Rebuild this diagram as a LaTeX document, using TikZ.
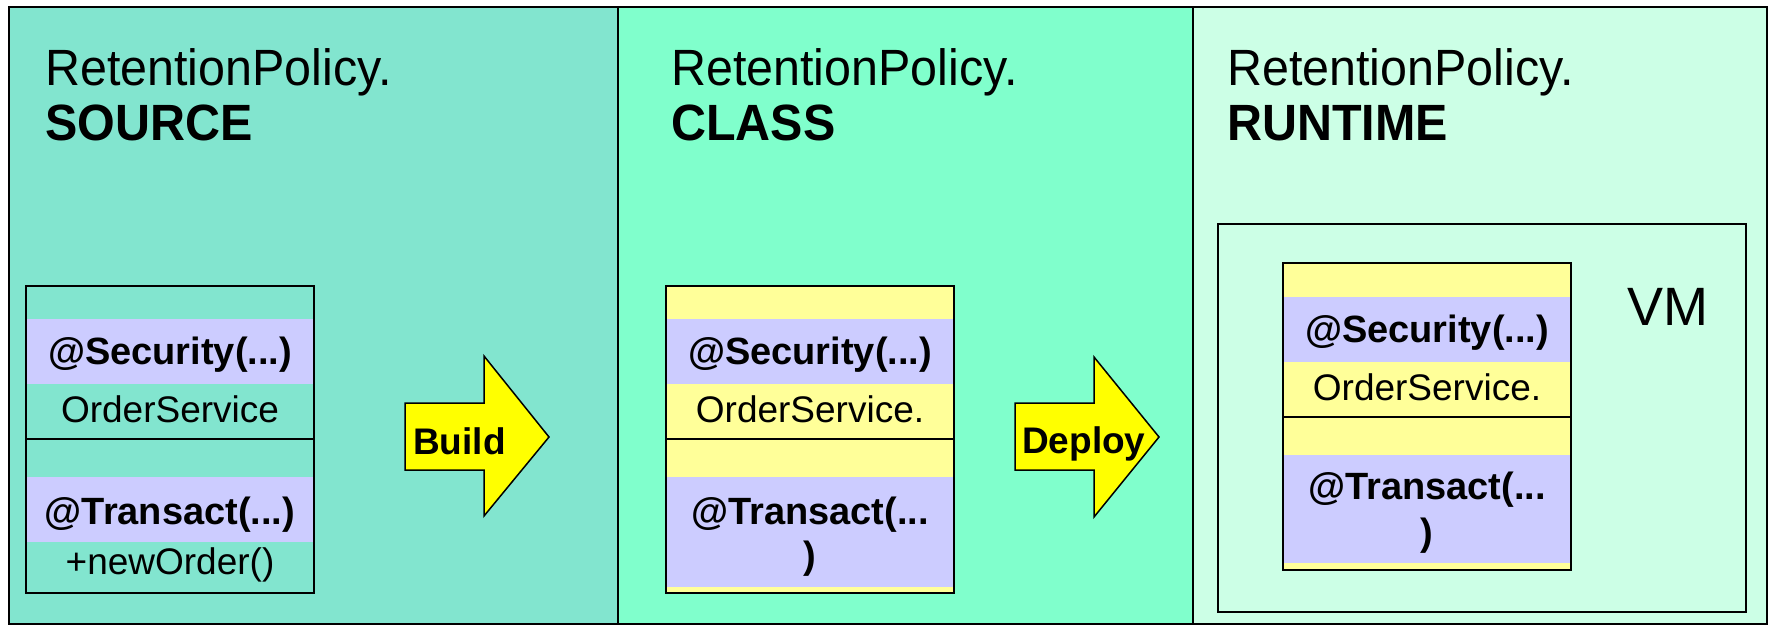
\documentclass[tikz,border=0pt]{standalone}
\usepackage{fontspec}
\setmainfont{Liberation Sans}
\newfontfamily\titlefont[FakeStretch=0.95]{Liberation Sans}
\definecolor{srcbg}{HTML}{82E5CF}
\definecolor{clsbg}{HTML}{80FFCC}
\definecolor{rtbg}{HTML}{CCFFE6}
\definecolor{boxyel}{HTML}{FFFF99}
\definecolor{lav}{HTML}{CCCCFF}
\definecolor{arrowyel}{HTML}{FFFF00}
\begin{document}
\begin{tikzpicture}[x=1pt,y=-1pt,
  panel/.style={draw=black,line width=2pt},
  frame/.style={draw=black,line width=1.5pt},
  ttl/.style={anchor=base west,inner sep=0,font=\titlefont\fontsize{51}{51}\selectfont},
  ttlb/.style={anchor=base west,inner sep=0,font=\titlefont\bfseries\fontsize{51}{51}\selectfont},
  ann/.style={inner sep=0,align=center,font=\bfseries\fontsize{38}{46}\selectfont},
  plain/.style={inner sep=0,font=\fontsize{37}{40}\selectfont},
  arrlabel/.style={anchor=base west,inner sep=0,font=\bfseries\fontsize{37}{40}\selectfont},
  bigarrow/.style={draw=black,line width=1.5pt,fill=arrowyel,line join=miter}]
\useasboundingbox (0,0) rectangle (1769,626);
\fill[white] (0,0) rectangle (1769,626);
% panels
\path[panel,fill=srcbg] (9,7) rectangle (618,624);
\path[panel,fill=clsbg] (618,7) rectangle (1193,624);
\path[panel,fill=rtbg] (1193,7) rectangle (1767,624);
% titles
\node[ttl]  (t1a) at (45,85) {RetentionPolicy.};
\node[ttlb] (t1b) at (45,140) {SOURCE};
\node[ttl]  (t2a) at (671,85) {RetentionPolicy.};
\node[ttlb] (t2b) at (671,140) {CLASS};
\node[ttl]  (t3a) at (1227,85) {RetentionPolicy.};
\node[ttlb] (t3b) at (1227,140) {RUNTIME};
% source box
\fill[lav] (26,319) rectangle (314,384);
\fill[lav] (26,477) rectangle (314,542);
\draw[frame] (26,286) rectangle (314,439);
\draw[frame] (26,439) rectangle (314,593);
\node[ann]   (s1) at (170,355) {@Security(...)};
\node[plain] (s2) at (170,409) {OrderService};
\node[ann]   (s3) at (170,515) {@Transact(...)};
\node[plain] (s4) at (170,565) {+newOrder()};
% build arrow
\draw[bigarrow] (405,403) -- (484,403) -- (484,356) -- (549,437) -- (484,516) -- (484,470) -- (405,470) -- cycle;
\node[arrlabel] (build) at (413,454) {Build};
% class box
\fill[boxyel] (666,286) rectangle (954,593);
\fill[lav] (666,319) rectangle (954,384);
\fill[lav] (666,477) rectangle (954,587);
\draw[frame] (666,286) rectangle (954,439);
\draw[frame] (666,439) rectangle (954,593);
\node[ann]   (c1) at (810,355) {@Security(...)};
\node[plain] (c2) at (810,409) {OrderService.};
\node[ann,font=\bfseries\fontsize{38}{44}\selectfont] (c3) at (810,537) {@Transact(...\\)};
% deploy arrow
\draw[bigarrow] (1015,403) -- (1094,403) -- (1094,357) -- (1159,437) -- (1094,517) -- (1094,470) -- (1015,470) -- cycle;
\node[arrlabel] (deploy) at (1022,453) {Deploy};
% VM
\draw[frame] (1218,224) rectangle (1746,612);
\node[inner sep=0,font=\fontsize{54}{54}\selectfont] (vm) at (1668,307) {VM};
% runtime box
\fill[boxyel] (1283,263) rectangle (1571,570);
\fill[lav] (1283,297) rectangle (1571,362);
\fill[lav] (1283,455) rectangle (1571,563);
\draw[frame] (1283,263) rectangle (1571,417);
\draw[frame] (1283,417) rectangle (1571,570);
\node[ann]   (r1) at (1427,333) {@Security(...)};
\node[plain] (r2) at (1427,387) {OrderService.};
\node[ann]   (r3) at (1427,513) {@Transact(...\\)};
\end{tikzpicture}
\end{document}
